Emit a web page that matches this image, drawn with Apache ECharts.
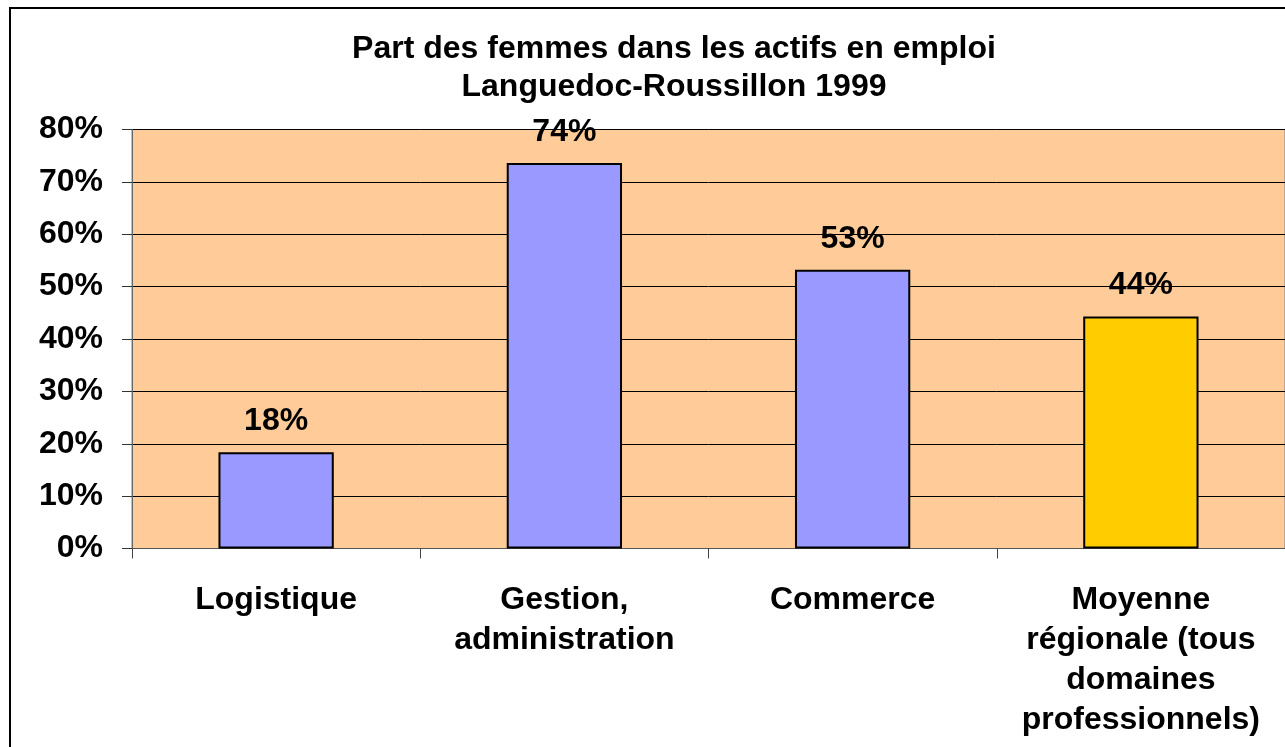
<!DOCTYPE html>
<html>
<head>
<meta charset="utf-8">
<script src="https://cdn.jsdelivr.net/npm/echarts@6/dist/echarts.min.js"></script>
<style>
  html, body { margin: 0; padding: 0; background: #ffffff; }
  #main { width: 1285px; height: 747px; }
</style>
</head>
<body>
<div id="main"></div>
<script>
// categories and values
const categories = ['Logistique', 'Gestion,\nadministration', 'Commerce', 'Moyenne\nrégionale (tous\ndomaines\nprofessionnels)'];
const shares = [18.4, 73.6, 53.2, 44.3];
const barColors = ['#9999FF', '#9999FF', '#9999FF', '#FFCC00'];
const yTicks = [0, 10, 20, 30, 40, 50, 60, 70, 80];

const chart = echarts.init(document.getElementById('main'));

const fontFam = 'Liberation Sans, Arial, sans-serif';

chart.setOption({
  animation: false,
  title: {
    text: 'Part des femmes dans les actifs en emploi\nLanguedoc-Roussillon 1999',
    left: 669,
    textAlign: 'center',
    top: 25,
    textStyle: { fontFamily: fontFam, fontWeight: 'bold', fontSize: 32, lineHeight: 38, color: '#000' }
  },
  graphic: [{
    type: 'rect',
    shape: { x: 10, y: 8, width: 1400, height: 900 },
    style: { fill: null, stroke: '#000', lineWidth: 2 },
    silent: true
  }],
  grid: {
    left: 132, top: 129.5, width: 1157, height: 419,
    show: true, backgroundColor: '#FFCC99', borderColor: '#808080', borderWidth: 1
  },
  xAxis: {
    type: 'category',
    data: categories,
    axisLine: { lineStyle: { color: '#555', width: 1 } },
    axisTick: { show: true, length: 10, lineStyle: { color: '#444' } },
    axisLabel: {
      interval: 0, margin: 32, color: '#000',
      fontFamily: fontFam, fontWeight: 'bold', fontSize: 32, lineHeight: 40
    }
  },
  yAxis: {
    type: 'value',
    min: yTicks[0], max: yTicks[yTicks.length - 1], interval: 10,
    axisLine: { show: true, lineStyle: { color: '#666' } },
    axisTick: { show: true, length: 10, lineStyle: { color: '#333' } },
    splitLine: { lineStyle: { color: '#000', width: 1 } },
    axisLabel: {
      margin: 29, color: '#000',
      fontFamily: fontFam, fontWeight: 'bold', fontSize: 32,
      formatter: v => v + '%'
    }
  },
  series: [{
    type: 'bar',
    barWidth: '40%',
    data: shares.map((v, i) => ({ value: v, itemStyle: { color: barColors[i] } })),
    itemStyle: { borderColor: '#000', borderWidth: 2 },
    label: {
      show: true, position: 'top', distance: 15, color: '#000',
      fontFamily: fontFam, fontWeight: 'bold', fontSize: 32,
      formatter: p => Math.round(p.value) + '%'
    }
  }]
});
</script>
</body>
</html>
